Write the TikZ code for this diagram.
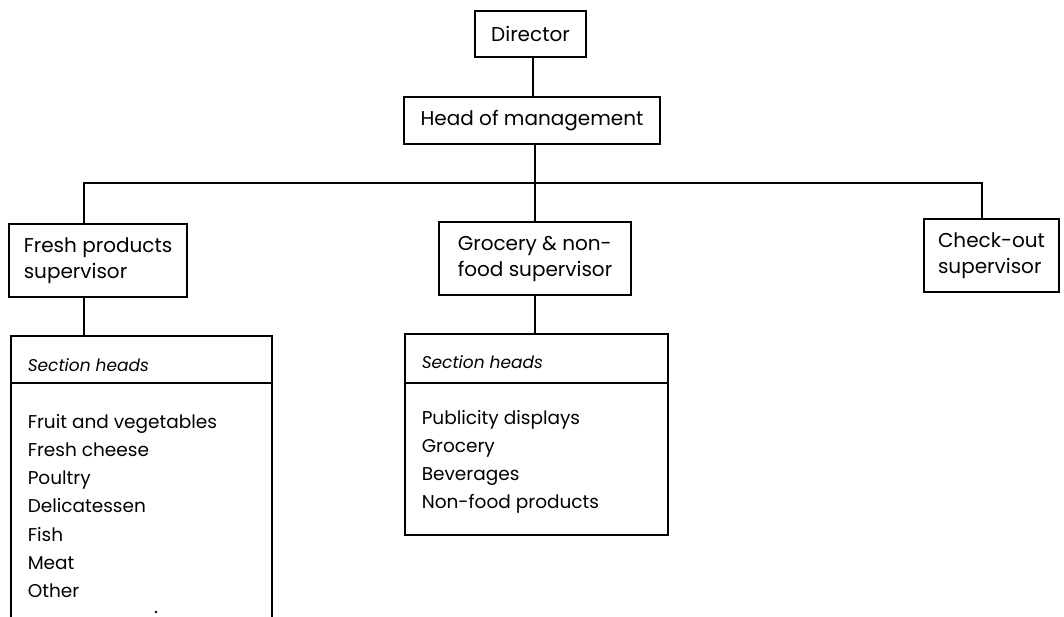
\documentclass[tikz,border=0pt]{standalone}
\usepackage{fontspec}
\setmainfont{Poppins}
\begin{document}
\begin{tikzpicture}[x=1pt,y=-1pt,line width=1.5pt,
  box/.style={draw,rectangle,inner sep=0pt,outer sep=0pt,align=left,
    font=\fontsize{20}{26}\selectfont},
  frame/.style={draw,rectangle,inner sep=0pt,outer sep=0pt},
  item/.style={inner sep=0pt,anchor=base west,
    font=\fontsize{18.5}{22}\selectfont},
  headtext/.style={inner sep=0pt,anchor=base west,
    font=\fontsize{17}{22}\selectfont\itshape}]
\useasboundingbox (0,0) rectangle (1064,617);

% management boxes
\node[box,minimum width=111pt,minimum height=46pt] (dir) at (530.5,34) {Director};
\node[box,minimum width=256pt,minimum height=47pt] (head) at (532,120.5) {Head of management};
\node[box,minimum width=178pt,minimum height=73pt] (fresh) at (98,260.5) {Fresh products\\supervisor};
\node[box,minimum width=192pt,minimum height=73pt] (groc) at (535,258.5) {Grocery \& non-\\food supervisor};
\node[box,minimum width=135pt,minimum height=73pt] (check) at (991.5,255.5) {Check-out\\supervisor};

% connectors
\coordinate (busL) at (84,183);
\coordinate (busR) at (982,183);
\coordinate (dtop) at (533,0);
\draw (dtop |- dir.south) -- (dtop |- head.north);
\draw (groc.north) -- (groc.north |- head.south);
\draw (busL |- fresh.north) -- (busL) -- (busR) -- (busR |- check.north);

% fresh products section heads (open at the bottom)
\node[frame,minimum width=261pt,minimum height=47pt] (fhd) at (141.5,359.5) {};
\node[headtext] (fhdt) at (27,371) {Section heads};
\draw (fhd.south west) -- ++(0,250);
\draw (fhd.south east) -- ++(0,250);
\draw (busL |- fresh.south) -- (busL |- fhd.north);
\foreach \t [count=\i] in {Fruit and vegetables,Fresh cheese,Poultry,Delicatessen,Fish,Meat,Other}
  \node[item] (fi\i) at (27,{428+28.3*(\i-1)}) {\t};
\fill (156,612) circle (1.4pt);

% grocery section heads
\node[frame,minimum width=263pt,minimum height=201pt] (gbox) at (536.5,434.5) {};
\coordinate (gdiv) at (0,383);
\draw (gbox.west |- gdiv) -- (gbox.east |- gdiv);
\node[headtext] (ghdt) at (421,368) {Section heads};
\draw (groc.south) -- (groc.south |- gbox.north);
\foreach \t [count=\i] in {Publicity displays,Grocery,Beverages,Non-food products}
  \node[item] (gi\i) at (421,{424+28*(\i-1)}) {\t};
\end{tikzpicture}
\end{document}
